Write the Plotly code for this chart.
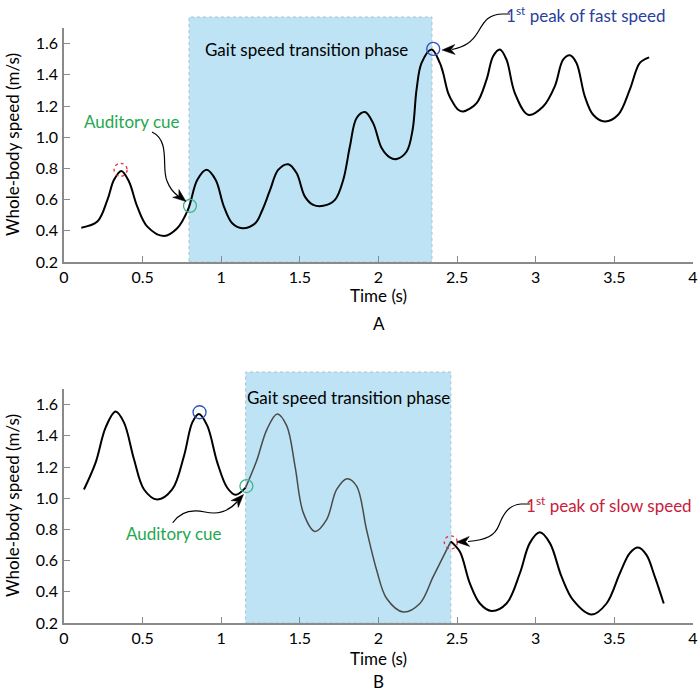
import math
import plotly.graph_objects as go

# ---------------- data ----------------
A_time = [0.11, 0.212, 0.276, 0.318, 0.365, 0.413, 0.466, 0.53, 0.636, 0.72,
          0.788, 0.848, 0.907, 0.964, 1.017, 1.07, 1.134, 1.218, 1.26, 1.31,
          1.362, 1.426, 1.479, 1.532, 1.585, 1.649, 1.723, 1.776, 1.818, 1.861,
          1.914, 1.966, 2.02, 2.072, 2.115, 2.179, 2.217, 2.242, 2.274, 2.338,
          2.39, 2.411, 2.443, 2.475, 2.507, 2.539, 2.624, 2.687, 2.729, 2.772,
          2.814, 2.867, 2.952, 3.047, 3.121, 3.174, 3.217, 3.259, 3.312, 3.365,
          3.439, 3.524, 3.598, 3.662, 3.721]
A_speed = [0.42, 0.459, 0.598, 0.727, 0.784, 0.716, 0.555, 0.427, 0.367, 0.416,
           0.534, 0.727, 0.791, 0.727, 0.555, 0.448, 0.416, 0.45, 0.53, 0.66,
           0.79, 0.827, 0.77, 0.619, 0.566, 0.56, 0.598, 0.727, 0.94, 1.123,
           1.161, 1.09, 0.93, 0.87, 0.86, 0.908, 1.048, 1.305, 1.476, 1.562,
           1.476, 1.412, 1.283, 1.219, 1.176, 1.165, 1.219, 1.369, 1.519, 1.562,
           1.497, 1.283, 1.144, 1.197, 1.326, 1.497, 1.525, 1.476, 1.262, 1.144,
           1.101, 1.144, 1.305, 1.476, 1.512]

B_time = [0.127, 0.201, 0.265, 0.328, 0.381, 0.445, 0.509, 0.593, 0.688, 0.763,
          0.816, 0.858, 0.911, 0.975, 1.038, 1.091, 1.155, 1.225, 1.29, 1.356,
          1.416, 1.469, 1.522, 1.596, 1.67, 1.734, 1.801, 1.861, 1.924, 1.988,
          2.052, 2.157, 2.263, 2.348, 2.46, 2.517, 2.581, 2.645, 2.719, 2.814,
          2.899, 2.962, 3.026, 3.09, 3.164, 3.238, 3.355, 3.45, 3.535, 3.598,
          3.651, 3.704, 3.757, 3.814]
B_speed = [1.056, 1.228, 1.454, 1.555, 1.486, 1.25, 1.056, 0.992, 1.056, 1.271,
           1.486, 1.54, 1.465, 1.228, 1.067, 1.022, 1.068, 1.24, 1.44, 1.54,
           1.465, 1.206, 0.906, 0.787, 0.863, 1.056, 1.125, 1.077, 0.798, 0.54,
           0.357, 0.271, 0.325, 0.497, 0.723, 0.658, 0.454, 0.325, 0.277, 0.325,
           0.519, 0.712, 0.781, 0.712, 0.497, 0.346, 0.254, 0.325, 0.519, 0.648,
           0.684, 0.637, 0.497, 0.325]

A_phase = [0.795, 2.34]     # gait speed transition phase, panel A (s)
B_phase = [1.155, 2.46]     # gait speed transition phase, panel B (s)

x_ticks = [0, 0.5, 1, 1.5, 2, 2.5, 3, 3.5, 4]
x_tick_labels = ["0", "0.5", "1", "1.5", "2", "2.5", "3", "3.5", "4"]
y_ticks = [0.2, 0.4, 0.6, 0.8, 1.0, 1.2, 1.4, 1.6]
y_tick_labels = ["0.2", "0.4", "0.6", "0.8", "1.0", "1.2", "1.4", "1.6"]

# ---------------- layout helpers ----------------
W, H = 700, 693          # reference picture size (positions below are in its pixels)
FIG_H = 702              # the captured viewport is slightly taller than the picture
ML, MR = 64, 7
PW = W - ML - MR
FONT = "Lato, 'Open Sans', sans-serif"
GREEN, BLUE, RED = "#1fa84f", "#2a3f9e", "#c8203c"
CIRC_GREEN, CIRC_BLUE, CIRC_RED = "#3db58f", "#2a52be", "#e0303a"
SHADE = "#bee3f4"
TXT = 17


def fx(p):
    return (p - ML) / PW


def fy(p):
    return (H - p) / H


def path(*pts):
    """pts: sequence of (cmd, [(px,py),...]) in pixel coords -> paper path."""
    out = []
    for cmd, ps in pts:
        out.append(cmd + " " + " ".join(f"{fx(a):.4f},{fy(b):.4f}" for a, b in ps))
    return " ".join(out).strip()


fig = go.Figure()

# Panel A
fig.add_trace(go.Scatter(x=A_time, y=A_speed, mode="lines",
                         line=dict(color="black", width=2, shape="spline"),
                         xaxis="x", yaxis="y", showlegend=False, hoverinfo="skip"))

# Panel B split into outside/inside shading segments
left = [(t, s) for t, s in zip(B_time, B_speed) if t <= B_phase[0]]
mid = [(t, s) for t, s in zip(B_time, B_speed) if B_phase[0] <= t <= B_phase[1]]
right = [(t, s) for t, s in zip(B_time, B_speed) if t >= B_phase[1]]
for seg, col, w in [(left, "black", 2), (mid, "#4a4a4a", 1.5), (right, "black", 2)]:
    fig.add_trace(go.Scatter(x=[p[0] for p in seg], y=[p[1] for p in seg], mode="lines",
                             line=dict(color=col, width=w, shape="spline"),
                             xaxis="x2", yaxis="y2", showlegend=False, hoverinfo="skip"))

shapes = [
    dict(type="rect", xref="x", yref="paper", x0=A_phase[0], x1=A_phase[1],
         y0=fy(262), y1=fy(17), fillcolor=SHADE, layer="below",
         line=dict(color="#a9c0d0", width=1, dash="dot")),
    dict(type="rect", xref="x2", yref="paper", x0=B_phase[0], x1=B_phase[1],
         y0=fy(623), y1=fy(372), fillcolor=SHADE, layer="below",
         line=dict(color="#a9c0d0", width=1, dash="dot")),
]


def circ(xr, yr, x, y, color, dash="solid", r=6.5):
    return dict(type="circle", xref=xr, yref=yr, xsizemode="pixel", ysizemode="pixel",
                xanchor=x, yanchor=y, x0=-r, x1=r, y0=-r, y1=r,
                line=dict(color=color, width=1.3, dash=dash), layer="above")


shapes += [
    circ("x", "y", 0.36, 0.791, CIRC_RED, "dot"),
    circ("x", "y", 0.801, 0.56, CIRC_GREEN),
    circ("x", "y", 2.348, 1.566, CIRC_BLUE),
    circ("x2", "y2", 0.862, 1.551, CIRC_BLUE),
    circ("x2", "y2", 1.16, 1.078, CIRC_GREEN),
    circ("x2", "y2", 2.46, 0.717, CIRC_RED, "dot"),
]

# curved arrow bodies (paper coords)
arrow_line = dict(color="black", width=1.2)
shapes += [
    dict(type="path", xref="paper", yref="paper", line=arrow_line,
         path=path(("M", [(152, 132)]), ("C", [(171, 141), (161, 168), (167, 181)]),
                   ("C", [(170, 189), (174, 193), (178, 196)]))),
    dict(type="path", xref="paper", yref="paper", line=arrow_line,
         path=path(("M", [(510, 14)]), ("L", [(503, 14)]),
                   ("C", [(488, 14), (484, 22), (478, 32)]),
                   ("C", [(472, 42), (465, 47), (452, 49.5)]))),
    dict(type="path", xref="paper", yref="paper", line=arrow_line,
         path=path(("M", [(172.7, 522.7)]), ("C", [(180, 512), (192, 509), (205, 512)]),
                   ("C", [(218, 515), (228, 512), (237, 502)]))),
    dict(type="path", xref="paper", yref="paper", line=arrow_line,
         path=path(("M", [(530, 504)]), ("L", [(521, 504)]),
                   ("C", [(508, 505), (503, 515), (499, 525)]),
                   ("C", [(495, 536), (486, 540), (468, 541.5)]))),
]


def head(tip, frm, length=13, width=10):
    tx, ty = tip
    dx, dy = tx - frm[0], ty - frm[1]
    n = math.hypot(dx, dy)
    ux, uy = dx / n, dy / n
    nx, ny = -uy, ux
    bx, by = tx - length * ux, ty - length * uy
    lft = (bx + width / 2 * nx, by + width / 2 * ny)
    rgt = (bx - width / 2 * nx, by - width / 2 * ny)
    notch = (tx - 0.7 * length * ux, ty - 0.7 * length * uy)
    return dict(type="path", xref="paper", yref="paper", fillcolor="black",
                line=dict(color="black", width=0.5),
                path=path(("M", [tip]), ("L", [lft]), ("L", [notch]), ("L", [rgt]), ("Z", [])))


shapes += [
    head((186, 201.5), (174, 192)),
    head((442, 50), (455, 49.5)),
    head((243.5, 494.5), (236.5, 502)),
    head((456.5, 542), (469, 541.5)),
]


def label(text, cx, cy, color="black", size=TXT, xanchor="center", angle=0):
    return dict(xref="paper", yref="paper", x=fx(cx), y=fy(cy), text=text,
                showarrow=False, xanchor=xanchor, yanchor="middle", textangle=angle,
                font=dict(family=FONT, size=size, color=color))


annotations = [
    label("Gait speed transition phase", 306, 49),
    label("Auditory cue", 132, 122, GREEN),
    label("1<sup>st</sup> peak of fast speed", 668, 14, BLUE, xanchor="right"),
    label("Gait speed transition phase", 348, 397),
    label("Auditory cue", 174, 533, GREEN),
    label("1<sup>st</sup> peak of slow speed", 694, 504, RED, xanchor="right"),
    label("Time (s)", 378.5, 295.5),
    label("Time (s)", 378.5, 658),
    label("A", 379, 323, size=17),
    label("B", 379, 681.5, size=17),
    label("Whole-body speed (m/s)", 12, 145, angle=-90),
    label("Whole-body speed (m/s)", 12, 506, angle=-90),
]

axis_common = dict(showgrid=False, zeroline=False, showline=True, linecolor="#8a8a8a",
                   linewidth=1.5, ticks="inside", ticklen=6, tickcolor="#8a8a8a",
                   tickwidth=1.2, ticklabeloverflow="allow",
                   tickfont=dict(family=FONT, size=16, color="black"))

fig.update_layout(
    width=W, height=FIG_H,
    margin=dict(l=ML, r=MR, t=0, b=0),
    paper_bgcolor="white", plot_bgcolor="white",
    font=dict(family=FONT, size=TXT, color="black"),
    xaxis=dict(domain=[0, 1], range=[0, 4], anchor="y", tickvals=x_ticks,
               ticktext=x_tick_labels, **axis_common),
    yaxis=dict(domain=[fy(262), fy(28)], range=[0.2, 1.7], anchor="x", tickvals=y_ticks,
               ticktext=y_tick_labels, ticklabelstandoff=1, **axis_common),
    xaxis2=dict(domain=[0, 1], range=[0, 4], anchor="y2", tickvals=x_ticks,
                ticktext=x_tick_labels, **axis_common),
    yaxis2=dict(domain=[fy(623), fy(389)], range=[0.2, 1.7], anchor="x2", tickvals=y_ticks,
                ticktext=y_tick_labels, ticklabelstandoff=1, **axis_common),
    shapes=shapes,
    annotations=annotations,
)

# make the figure fill the page exactly (no default page margin / overflow)
PAGE_FIT = ("var h=document.documentElement.style, b=document.body.style;"
            "h.margin=b.margin='0'; h.padding=b.padding='0';"
            "h.overflow=b.overflow='hidden';")
fig.write_html("out.html", config={"displayModeBar": False}, post_script=PAGE_FIT)
